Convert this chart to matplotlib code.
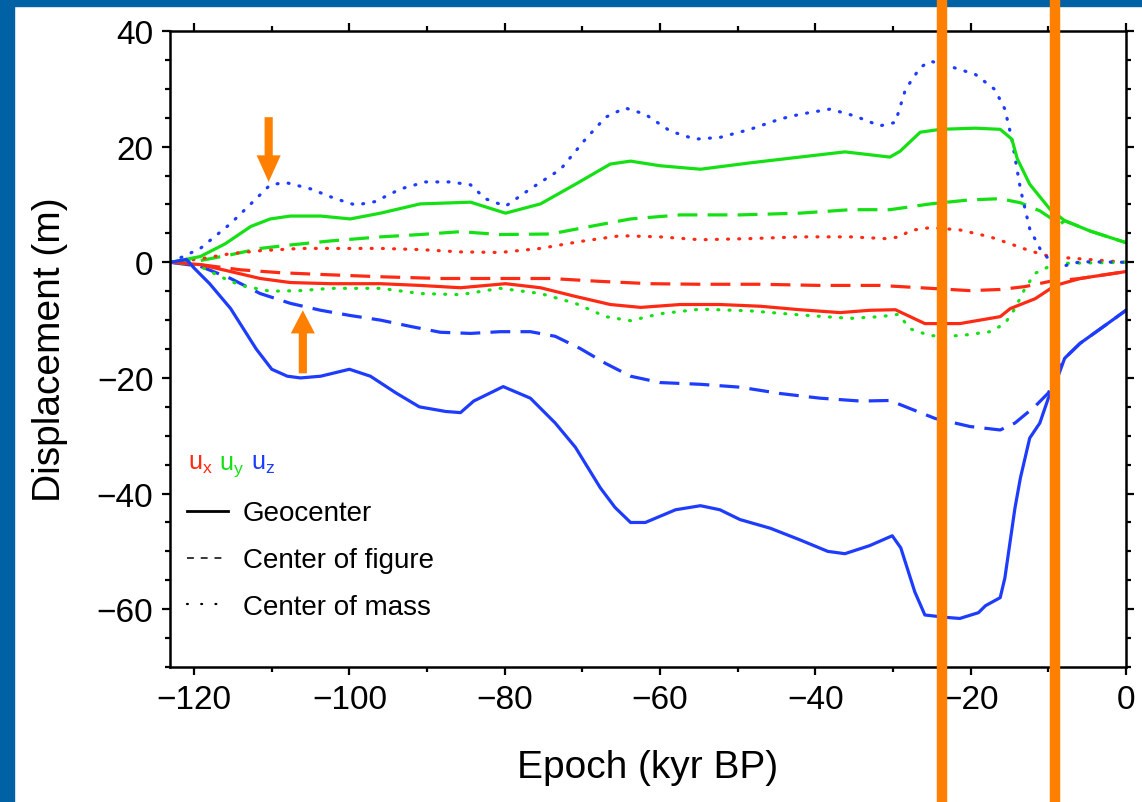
import matplotlib
matplotlib.use('Agg')
import matplotlib.pyplot as plt
import matplotlib.transforms as mtransforms
from matplotlib.lines import Line2D
from matplotlib.patches import Rectangle

plt.rcParams['font.family'] = ['Liberation Sans', 'DejaVu Sans']
plt.rcParams['mathtext.fontset'] = 'custom'
plt.rcParams['mathtext.rm'] = 'Liberation Sans'
plt.rcParams['mathtext.it'] = 'Liberation Sans'

RED = '#ff2a14'
GREEN = '#14e014'
BLUE = '#1e3cff'
ORANGE = '#ff8000'
FRAME = '#0061a4'

# ---- data (kyr BP, metres) ----
uz_geo_t = [-123, -121, -120, -118, -115.3, -112, -110, -108, -106.3, -103.7, -100, -97.3, -94, -91,
            -87.6, -85.7, -84, -80.2, -76.7, -73.5, -70.9, -67.7, -65.8, -63.8, -61.9, -58, -54.8,
            -52.3, -49.7, -45.8, -42, -38.4, -36.2, -33, -30.1, -29, -27.2, -25.9, -23.3, -21.4,
            -19, -18.1, -16.2, -15.6, -14.3, -13.6, -12.4, -11.1, -10, -9.1, -7.9, -5.9, -3.3, 0]
uz_geo = [0, 0.5, -1, -3.7, -8, -15, -18.5, -19.7, -20, -19.7, -18.5, -19.7, -22.6, -25,
          -25.8, -26, -24, -21.5, -23.5, -27.8, -32, -39, -42.4, -45, -45, -42.8, -42.1,
          -42.8, -44.5, -46, -48, -50, -50.4, -49, -47.3, -49.4, -57, -61, -61.4, -61.6,
          -60.6, -59.4, -58, -54.6, -42.5, -37.3, -30.4, -27.8, -23.5, -21, -16.6, -14, -11.5, -8.3]

uz_cof_t = [-123, -119.2, -115.3, -111.5, -107.6, -103.7, -99.9, -96, -92.1, -88.3, -84.4, -80.6,
            -76.7, -73.5, -70.3, -67, -63.8, -60, -54.8, -49.7, -44.5, -39.4, -34.2, -30.4, -27.8,
            -24.6, -20.1, -16.2, -14.3, -11.7, -10, -9.1, -7.9, -5.9, -3.3, 0]
uz_cof = [0, -0.7, -2.8, -5.4, -7.1, -8.3, -9.2, -10, -11.1, -12.1, -12.3, -12,
          -12, -12.8, -14.9, -17.5, -19.7, -20.8, -21.1, -21.6, -22.7, -23.5, -24, -23.9, -25.3,
          -27, -28.4, -29, -27.8, -24.9, -22.6, -20, -16.6, -14, -11.5, -8.3]

uz_com_t = [-123, -119.2, -115.3, -112.7, -110.2, -108.2, -105, -101.8, -99.2, -96.7, -93.4, -90.2,
            -87, -84.4, -82.5, -79.9, -76.7, -72.8, -69.6, -67, -64.5, -61.9, -58.7, -55.5, -52.3,
            -48.4, -44.5, -42, -38.1, -34.9, -31.7, -29.7, -28.4, -26.5, -25.2, -22.7, -19.4,
            -16.9, -15.6, -14.7, -13.6, -12.4, -11.1, -9.8, -7.9, -5.9, 0]
uz_com = [0, 2.4, 6.7, 10.1, 13.4, 13.8, 12.7, 11, 9.9, 10.5, 12.7, 13.9,
          13.9, 13.4, 11, 9.7, 12.7, 16.1, 21.3, 25.1, 26.7, 25.6, 22.7, 21.3, 21.6,
          23, 24.8, 25.6, 26.5, 25.3, 23.6, 24.2, 29.9, 33.7, 34.8, 33.9, 32.5,
          29.9, 26.5, 21.3, 12.7, 5.8, 2.4, 0.3, -0.6, 0.1, 0]

uy_geo_t = [-123, -119.2, -116, -112.7, -110.2, -107.6, -103.7, -99.9, -96, -90.9, -84.4, -79.9,
            -75.4, -70.9, -66.4, -63.8, -60, -54.8, -48.4, -42, -36.2, -30.4, -29.1, -26.5, -23.9,
            -19.4, -16.2, -14.7, -14, -12.4, -9.8, -7.9, -4.6, 0]
uy_geo = [0, 1, 3.2, 6.2, 7.5, 8, 8, 7.5, 8.5, 10.1, 10.4, 8.5,
          10.1, 13.5, 17, 17.5, 16.7, 16.1, 17.2, 18.2, 19.1, 18.2, 19.2, 22.5, 23,
          23.2, 23, 21.3, 17.9, 13.5, 9.2, 7.2, 5.4, 3.4]

uy_cof_t = [-123, -119.2, -115.3, -111.5, -107.6, -102.4, -96, -90.9, -85.7, -80.6, -74.1, -69,
            -63.8, -57.4, -49.7, -42, -35.5, -30.4, -25.2, -20.1, -16.2, -13.6, -11.1, -8.5,
            -7.9, -4.6, 0]
uy_cof = [0, 0.3, 1.3, 2.4, 3, 3.7, 4.4, 4.8, 5.3, 4.8, 4.9, 6.2,
          7.5, 8.2, 8.2, 8.5, 9.1, 9.1, 10.1, 10.8, 11, 10.3, 8.9, 6.6,
          7.2, 5.4, 3.4]

uy_com_t = [-123, -119.2, -116.6, -114, -110.2, -106.3, -102.4, -96, -90.9, -85.7, -80.6, -75.4,
            -70.9, -67, -63.8, -60, -54.8, -48.4, -42, -35.5, -31.7, -29.3, -27.8, -25.2, -21.4,
            -17.5, -15.6, -14.3, -13, -11.7, -9.1, 0]
uy_com = [0, -0.7, -2.5, -4, -5, -4.9, -4.5, -4.5, -5.4, -5.6, -4.5, -5.4,
          -7.1, -9.4, -10.1, -8.9, -8.1, -8.4, -9.1, -9.7, -9.4, -9, -11.5, -12.7, -12.7,
          -12, -10.6, -8, -4.5, -1.9, -0.2, 0]

ux_geo_t = [-123, -119.2, -115.3, -111.5, -107.6, -102.4, -96, -90.9, -85.7, -79.9, -75.4, -70.9,
            -66.4, -62.5, -57.4, -52.3, -47.1, -42, -36.8, -33, -29.7, -27.8, -25.9, -21.4, -17.5,
            -16.2, -14.9, -11.7, -9.1, -5.9, 0]
ux_geo = [0, -0.4, -1.6, -2.8, -3.5, -3.7, -3.7, -4, -4.4, -3.7, -4.4, -5.9,
          -7.3, -7.8, -7.3, -7.3, -7.6, -8.2, -8.7, -8.3, -8.2, -9.4, -10.6, -10.6, -9.7,
          -9.4, -8, -6.3, -4, -2.8, -1.6]

ux_cof_t = [-123, -119.2, -114, -108.9, -103.7, -96, -88.3, -80.6, -74.1, -67.7, -61.3, -54.8,
            -47.1, -39.4, -31.7, -25.2, -20.1, -16.2, -13, -9.8, -5.9, 0]
ux_cof = [0, -0.4, -1.3, -1.8, -2.1, -2.5, -2.8, -2.8, -2.8, -3.3, -3.7, -3.8,
          -3.8, -4, -4, -4.5, -4.9, -4.7, -4.2, -3.3, -2.8, -1.6]

ux_com_t = [-123, -119.2, -115.3, -111.5, -106.3, -101.2, -96, -90.9, -85.7, -80.6, -75.4, -70.3,
            -65.1, -60, -54.8, -48.4, -42, -35.5, -31, -29.1, -27.8, -25.2, -21.4, -17.5, -14.9,
            -12.4, -9.8, 0]
ux_com = [0, 0.6, 1.5, 2, 2.4, 2.4, 2.4, 2.2, 1.8, 1.7, 2.4, 3.6,
          4.6, 4.4, 3.9, 4.1, 4.4, 4.4, 4.1, 4.4, 5.5, 6, 5.6, 4.4, 3.2,
          2, 1, 0]

marked_epochs = [-23.7, -9.1]

# ---- figure ----
fig = plt.figure(figsize=(11.42, 8.03), dpi=100)
ax = fig.add_axes([0.1489, 0.1681, 0.8371, 0.792])

lw = 2.3
solid = dict(lw=lw, ls='-')
dashed = dict(lw=lw, dashes=(6.2, 3.2))
dotted = dict(lw=lw, dashes=(0.3, 3.2), dash_capstyle='round')

ax.plot(ux_cof_t, ux_cof, color=RED, **dashed)
ax.plot(uy_cof_t, uy_cof, color=GREEN, **dashed)
ax.plot(uz_cof_t, uz_cof, color=BLUE, **dashed)
ax.plot(ux_com_t, ux_com, color=RED, **dotted)
ax.plot(uy_com_t, uy_com, color=GREEN, **dotted)
ax.plot(uz_com_t, uz_com, color=BLUE, **dotted)
ax.plot(ux_geo_t, ux_geo, color=RED, **solid)
ax.plot(uy_geo_t, uy_geo, color=GREEN, **solid)
ax.plot(uz_geo_t, uz_geo, color=BLUE, **solid)

ax.set_xlim(-123.1, 0)
ax.set_ylim(-70, 40)
ax.set_xticks(range(-120, 1, 20))
ax.set_xticks(range(-120, 1, 10), minor=True)
ax.set_yticks(range(-60, 41, 20))
ax.set_yticks(range(-70, 41, 5), minor=True)
ax.tick_params(which='both', direction='out', top=True, right=True, width=1.6,
               labelsize=24, pad=6)
ax.tick_params(which='major', length=6)
ax.tick_params(which='minor', length=3.5)
for s in ax.spines.values():
    s.set_linewidth(1.8)

ax.set_xlabel('Epoch (kyr BP)', fontsize=28, labelpad=25)
ax.set_ylabel('Displacement (m)', fontsize=28, labelpad=21)

# arrows
ax.arrow(-110.4, 25.1, 0, -11.2, width=1.05, head_width=3.1, head_length=4.6,
         length_includes_head=True, color=ORANGE, lw=0, zorder=5)
ax.arrow(-106.0, -19.2, 0, 10.9, width=1.05, head_width=3.1, head_length=4.0,
         length_includes_head=True, color=ORANGE, lw=0, zorder=5)

# component labels
ax.text(0.0185, 0.311, r'$\mathregular{u_x}$', color=RED, fontsize=18,
        transform=ax.transAxes, va='baseline')
ax.text(0.051, 0.311, r'$\mathregular{u_y}$', color=GREEN, fontsize=18,
        transform=ax.transAxes, va='baseline')
ax.text(0.0845, 0.311, r'$\mathregular{u_z}$', color=BLUE, fontsize=18,
        transform=ax.transAxes, va='baseline')

handles = [Line2D([], [], color='black', lw=2.0),
           Line2D([], [], color='black', lw=1.1, dashes=(4.5, 4.5)),
           Line2D([], [], color='black', lw=1.6, dashes=(0.4, 6), dash_capstyle='round')]
ax.legend(handles, ['Geocenter', 'Center of figure', 'Center of mass'],
          loc='upper left', bbox_to_anchor=(0.0178, 0.262), frameon=False,
          fontsize=20, handlelength=1.47, handletextpad=0.54, labelspacing=0.75,
          borderpad=0, borderaxespad=0)

# frame bands
fig.patches.append(Rectangle((0, 0), 14 / 1142, 1, transform=fig.transFigure,
                             color=FRAME, zorder=0))
fig.patches.append(Rectangle((0, 1 - 7 / 803), 1, 7 / 803, transform=fig.transFigure,
                             color=FRAME, zorder=0))

# marked epochs spanning whole figure height
trans = mtransforms.blended_transform_factory(ax.transData, fig.transFigure)
for ep in marked_epochs:
    fig.add_artist(Line2D([ep, ep], [0, 1], transform=trans, color=ORANGE, lw=7.5, zorder=10))

fig.savefig('out.png', dpi=100)
